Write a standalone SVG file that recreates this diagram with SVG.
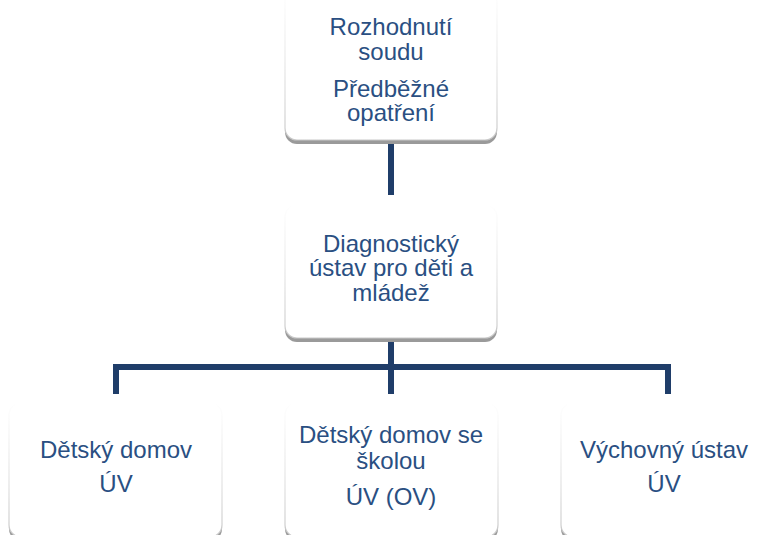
<svg xmlns="http://www.w3.org/2000/svg" width="767" height="535" viewBox="0 0 767 535">
<style>
.t{font-family:"Liberation Sans",Arial,sans-serif;font-size:24px;fill:#2a4f82;text-anchor:middle}
.box{fill:#ffffff;stroke:url(#edge);stroke-width:1.2}
.sh{fill:#9a9a9a}
.con{fill:none;stroke:#1f3d69;stroke-width:6;stroke-linejoin:miter;stroke-linecap:butt}
</style>
<defs>
<linearGradient id="edge" x1="0" y1="0" x2="0" y2="1">
<stop offset="0" stop-color="#d8d8d8" stop-opacity="0"/>
<stop offset="0.5" stop-color="#d8d8d8" stop-opacity="0.6"/>
<stop offset="1" stop-color="#c8c8c8" stop-opacity="1"/>
</linearGradient>
</defs>
<g id="connectors">
<path class="con" d="M391 141 V195"/>
<path class="con" d="M391 339 V394 M116 394 V367 H668 V394"/>
</g>
<g id="n1">
<rect class="sh" x="285" y="-6" width="212" height="150" rx="12"/>
<rect class="box" x="285" y="-10" width="212" height="150" rx="12"/>
<text class="t" x="391" y="35">Rozhodnutí</text>
<text class="t" x="391" y="60">soudu</text>
<text class="t" x="391" y="97">Předběžné</text>
<text class="t" x="391" y="121">opatření</text>
</g>
<g id="n2">
<rect class="sh" x="285" y="209" width="212" height="133" rx="12"/>
<rect class="box" x="285" y="205" width="212" height="133" rx="12"/>
<text class="t" x="391" y="252">Diagnostický</text>
<text class="t" x="391" y="276">ústav pro děti a</text>
<text class="t" x="391" y="301">mládež</text>
</g>
<g id="n3">
<rect class="sh" x="9" y="407" width="213" height="134" rx="12"/>
<rect class="box" x="9" y="403" width="213" height="134" rx="12"/>
<text class="t" x="116" y="458">Dětský domov</text>
<text class="t" x="116" y="492">ÚV</text>
</g>
<g id="n4">
<rect class="sh" x="285" y="407" width="213" height="134" rx="12"/>
<rect class="box" x="285" y="403" width="213" height="134" rx="12"/>
<text class="t" x="391" y="443">Dětský domov se</text>
<text class="t" x="391" y="469">školou</text>
<text class="t" x="391" y="505">ÚV (OV)</text>
</g>
<g id="n5">
<rect class="sh" x="561" y="407" width="213" height="134" rx="12"/>
<rect class="box" x="561" y="403" width="213" height="134" rx="12"/>
<text class="t" x="664" y="458">Výchovný ústav</text>
<text class="t" x="664" y="492">ÚV</text>
</g>
</svg>
